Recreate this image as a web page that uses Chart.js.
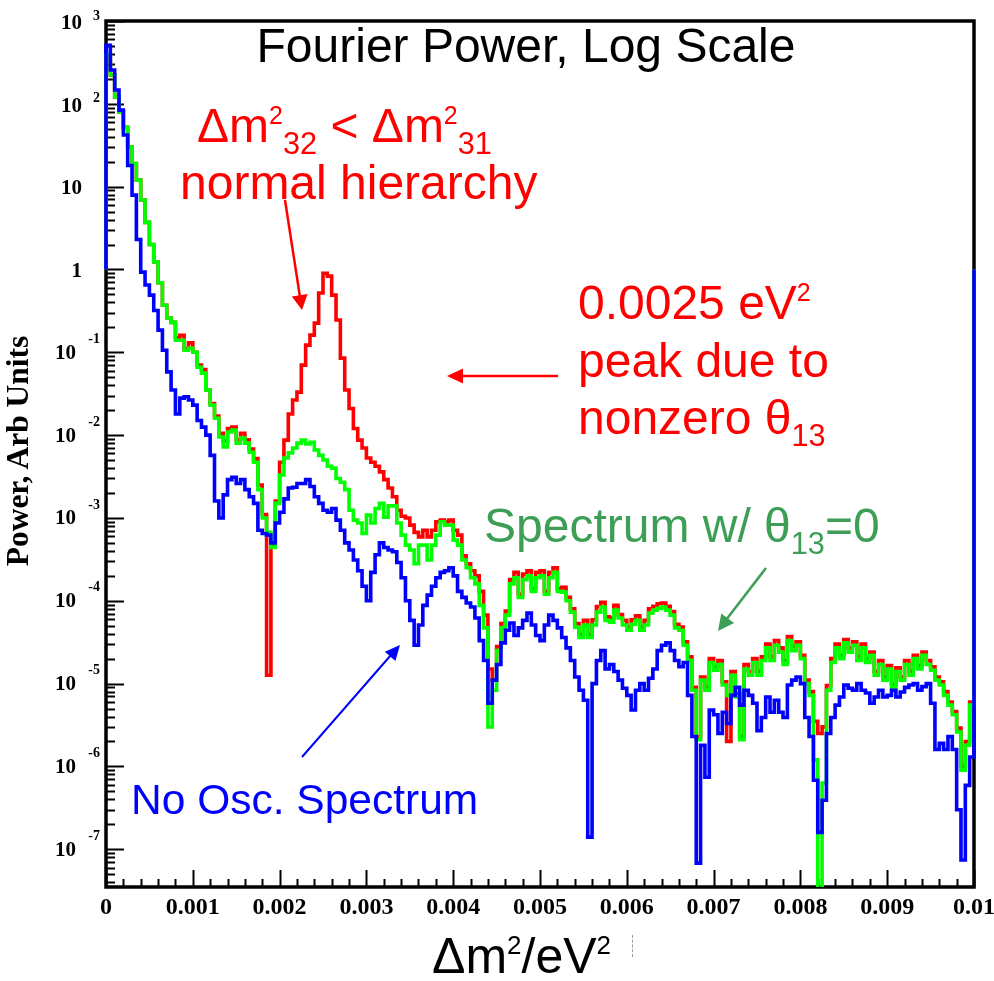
<!DOCTYPE html>
<html>
<head>
<meta charset="utf-8">
<script src="https://cdn.jsdelivr.net/npm/chart.js@4.4.0/dist/chart.umd.min.js"></script>
<style>
  html, body { margin:0; padding:0; background:#fff; }
  #wrap { position:relative; width:994px; height:981px; overflow:hidden; background:#fff; }
  #c { position:absolute; left:0; top:0; }
  .t { position:absolute; white-space:nowrap; font-family:"Liberation Sans", Arial, sans-serif; font-size:48px; line-height:1; }
  .sup { font-size:0.52em; position:relative; top:-0.72em; }
  .sub { font-size:0.64em; position:relative; top:0.39em; }
  .red { color:#ff0000; }
  .grn { color:#3d9e55; }
  .blu { color:#0000ff; }
  #ytitle { position:absolute; left:18px; top:451px; white-space:nowrap; font-family:"Liberation Serif", "Times New Roman", serif; font-weight:bold; font-size:31.5px; line-height:1; transform:translate(-50%,-50%) rotate(-90deg); }
  #arrows { position:absolute; left:0; top:0; }
</style>
</head>
<body>
<div id="wrap">
  <canvas id="c" width="994" height="981"></canvas>
  <div class="t" style="left:526px; top:22px; transform:translateX(-50%);">Fourier Power, Log Scale</div>
  <div class="t red" style="left:197px; top:102px;">Δm<span class="sup">2</span><span class="sub">32</span> &lt; Δm<span class="sup">2</span><span class="sub">31</span></div>
  <div class="t red" style="left:180px; top:159px;">normal hierarchy</div>
  <div class="t red" style="left:578px; top:279px;">0.0025 eV<span class="sup">2</span></div>
  <div class="t red" style="left:578px; top:337px;">peak due to</div>
  <div class="t red" style="left:578px; top:394px;">nonzero θ<span class="sub">13</span></div>
  <div class="t grn" style="left:484px; top:502px; font-size:48px;">Spectrum w/ θ<span class="sub">13</span>=0</div>
  <div class="t blu" style="left:131px; top:779px; font-size:42.5px;">No Osc. Spectrum</div>
  <div class="t" style="left:432px; top:931px; font-size:50px;">Δm<span class="sup">2</span>/eV<span class="sup">2</span></div>
  <div id="ytitle">Power, Arb Units</div>
  <div style="position:absolute; left:632px; top:935px; height:22px; border-left:1px dashed #999;"></div>
  <svg id="arrows" width="994" height="981">
    <line x1="558" y1="376" x2="460" y2="376" stroke="#ff0000" stroke-width="2.5"/>
    <polygon points="447,376 463,368.5 463,383.5" fill="#ff0000"/>
    <line x1="285" y1="200" x2="300" y2="297" stroke="#ff0000" stroke-width="2.5"/>
    <polygon points="302,310 307.6,294 291.8,296.4" fill="#ff0000"/>
    <line x1="766" y1="568" x2="726" y2="620" stroke="#3d9e55" stroke-width="2.5"/>
    <polygon points="718,631 734.1,623.1 721.3,613.5" fill="#3d9e55"/>
    <line x1="302" y1="757" x2="391" y2="655" stroke="#0000ff" stroke-width="2"/>
    <polygon points="400,645 395.4,660.9 384.8,651.7" fill="#0000ff"/>
  </svg>
</div>
<script>
// ---------------- data ----------------
const X_MIN = 0;
const X_MAX = 0.01;
const BIN_WIDTH = 0.00005;          // 200 bins of the histogram
const Y_MIN = 3.5e-8;
const Y_MAX = 1000;
const EDGE_BASE = 1;                 // histogram outline returns to 1 at both ends

// No oscillation spectrum (blue)
const noOscPower = [
  510, 256, 147, 84, 42, 18, 7.9, 2.3, 0.93, 0.65,
  0.49, 0.32, 0.185, 0.106, 0.058, 0.035, 0.018, 0.028, 0.029, 0.0265,
  0.023, 0.015, 0.0125, 0.010, 0.0057, 0.0016, 0.0010, 0.0019, 0.0029, 0.0031,
  0.0026, 0.0029, 0.0022, 0.0018, 0.0015, 7.1e-4, 6.5e-4, 6.2e-4, 5.0e-4, 8.7e-4,
  1.17e-3, 1.7e-3, 2.3e-3, 2.35e-3, 2.6e-3, 2.6e-3, 2.9e-3, 2.4e-3, 1.8e-3, 1.5e-3,
  1.24e-3, 1.17e-3, 1.3e-3, 9.4e-4, 7.1e-4, 5.0e-4, 4.1e-4, 3.1e-4, 2.3e-4, 1.5e-4,
  1.0e-4, 2.2e-4, 3.6e-4, 5.0e-4, 4.4e-4, 4.1e-4, 3.9e-4, 2.9e-4, 1.9e-4, 1.0e-4,
  5.8e-5, 2.9e-5, 5.1e-5, 8.8e-5, 1.17e-4, 1.5e-4, 1.9e-4, 2.2e-4, 2.3e-4, 2.5e-4,
  2.0e-4, 1.3e-4, 1.1e-4, 9.4e-5, 8.4e-5, 6.2e-5, 3.3e-5, 1.9e-5, 5.8e-6, 1.1e-5,
  1.7e-5, 3.1e-5, 4.4e-5, 5.4e-5, 3.8e-5, 4.7e-5, 5.8e-5, 7.1e-5, 5.1e-5, 3.8e-5,
  3.3e-5, 5.1e-5, 6.7e-5, 5.8e-5, 4.7e-5, 3.6e-5, 2.7e-5, 1.9e-5, 1.2e-5, 8.3e-6,
  6.3e-6, 1.4e-7, 1.0e-5, 1.9e-5, 2.5e-5, 1.5e-5, 1.7e-5, 1.4e-5, 1.1e-5, 8.8e-6,
  7.2e-6, 4.8e-6, 8.3e-6, 1.0e-5, 8.3e-6, 1.16e-5, 1.5e-5, 2.5e-5, 2.9e-5, 3.1e-5,
  2.5e-5, 1.9e-5, 1.6e-5, 1.8e-5, 7.2e-6, 2.3e-6, 6.8e-8, 1.8e-6, 7.4e-7, 4.8e-6,
  4.2e-6, 2.5e-6, 4.5e-6, 3.3e-6, 7.2e-6, 9.0e-6, 5.5e-6, 8.3e-6, 7.2e-6, 5.8e-6,
  2.7e-6, 3.9e-6, 6.9e-6, 4.5e-6, 6.3e-6, 4.5e-6, 3.9e-6, 9.6e-6, 1.1e-5, 1.2e-5,
  1.0e-5, 3.9e-6, 2.3e-6, 6.8e-7, 1.6e-7, 3.9e-7, 2.5e-6, 3.9e-6, 5.5e-6, 6.9e-6,
  9.6e-6, 8.8e-6, 8.3e-6, 1.0e-5, 8.3e-6, 7.7e-6, 5.8e-6, 6.9e-6, 8.3e-6, 6.9e-6,
  7.2e-6, 8.3e-6, 6.9e-6, 7.9e-6, 9.0e-6, 9.6e-6, 1.0e-5, 8.3e-6, 9.2e-6, 1.0e-5,
  5.8e-6, 1.6e-6, 1.9e-6, 1.6e-6, 2.3e-6, 1.6e-6, 3.0e-7, 7.4e-8, 5.9e-7, 1.3e-6
];

// Spectrum with theta13 = 0 (green)
const theta13ZeroPower = [
  390, 223, 121, 80, 52, 30, 19, 12, 6.9, 3.7,
  2.0, 1.23, 0.69, 0.37, 0.26, 0.23, 0.14, 0.14, 0.106, 0.112,
  0.10, 0.066, 0.056, 0.035, 0.023, 0.016, 0.0095, 0.0072, 0.0109, 0.0115,
  0.0080, 0.0092, 0.0080, 0.0062, 0.0047, 0.0022, 0.0010, 6.7e-4, 4.4e-4, 0.0015,
  0.0033, 0.0053, 0.0061, 0.0070, 0.0080, 0.0087, 0.0078, 0.0082, 0.0066, 0.0057,
  0.0050, 0.0042, 0.0040, 0.0030, 0.0027, 0.0022, 0.00124, 9.4e-4, 8.7e-4, 6.5e-4,
  0.00108, 8.7e-4, 0.0013, 0.0015, 0.00102, 0.0014, 0.0014, 8.7e-4, 6.2e-4, 4.7e-4,
  4.1e-4, 2.8e-4, 4.7e-4, 4.7e-4, 3.1e-4, 4.7e-4, 6.2e-4, 9.0e-4, 8.2e-4, 8.2e-4,
  5.4e-4, 4.7e-4, 3.1e-4, 2.5e-4, 1.9e-4, 1.6e-4, 8.8e-5, 4.7e-5, 3.0e-6, 8.3e-6,
  2.5e-5, 4.7e-5, 6.7e-5, 1.6e-4, 1.9e-4, 1.1e-4, 1.8e-4, 2.0e-4, 1.3e-4, 1.9e-4,
  2.0e-4, 1.2e-4, 1.9e-4, 2.2e-4, 1.3e-4, 1.27e-4, 1.0e-4, 7.3e-5, 4.8e-5, 3.6e-5,
  5.1e-5, 3.6e-5, 5.1e-5, 7.3e-5, 8.4e-5, 5.8e-5, 5.5e-5, 7.7e-5, 6.2e-5, 5.1e-5,
  4.4e-5, 5.2e-5, 5.8e-5, 4.4e-5, 5.1e-5, 7.1e-5, 7.7e-5, 8.1e-5, 8.4e-5, 7.7e-5,
  6.7e-5, 4.7e-5, 4.4e-5, 2.9e-5, 1.9e-5, 8.3e-6, 2.1e-6, 1.1e-5, 8.3e-6, 1.8e-5,
  1.45e-5, 1.7e-5, 9.6e-6, 7.2e-6, 1.26e-5, 6.9e-6, 2.1e-6, 1.5e-5, 1.26e-5, 1.8e-5,
  1.26e-5, 1.9e-5, 2.7e-5, 1.9e-5, 2.9e-5, 2.4e-5, 1.7e-5, 3.3e-5, 2.5e-5, 2.9e-5,
  2.0e-5, 1.0e-5, 7.2e-6, 1.2e-6, 2.0e-8, 6.3e-7, 8.3e-6, 1.8e-5, 2.7e-5, 2.0e-5,
  3.1e-5, 2.4e-5, 2.9e-5, 1.9e-5, 2.7e-5, 1.8e-5, 2.2e-5, 1.26e-5, 1.7e-5, 1.1e-5,
  1.5e-5, 8.8e-6, 1.4e-5, 1.1e-5, 1.7e-5, 1.26e-5, 2.0e-5, 1.5e-5, 2.2e-5, 1.7e-5,
  1.45e-5, 1.1e-5, 9.6e-6, 7.2e-6, 5.5e-6, 4.2e-6, 2.6e-6, 9.0e-7, 1.8e-6, 5.5e-6
];

// Normal hierarchy, nonzero theta13 (red)
const normalHierarchyPower = [
  390, 223, 121, 80, 52, 30, 19, 12, 6.9, 3.7,
  2.0, 1.23, 0.69, 0.37, 0.26, 0.23, 0.15, 0.16, 0.11, 0.13,
  0.10, 0.07, 0.062, 0.035, 0.024, 0.017, 0.0105, 0.0085, 0.012, 0.0125,
  0.0088, 0.0105, 0.0088, 0.0068, 0.0052, 0.0025, 0.0011, 1.26e-5, 4.7e-4, 0.0016,
  0.0047, 0.0087, 0.018, 0.0265, 0.033, 0.070, 0.122, 0.161, 0.225, 0.52,
  0.90, 0.83, 0.49, 0.245, 0.085, 0.035, 0.021, 0.012, 0.0087, 0.0070,
  0.0053, 0.0047, 0.0042, 0.0036, 0.0029, 0.0023, 0.0018, 0.00124, 0.00105, 0.0010,
  8.2e-4, 6.7e-4, 5.9e-4, 7.1e-4, 5.9e-4, 7.1e-4, 9.0e-4, 9.4e-4, 9.0e-4, 9.4e-4,
  7.1e-4, 6.2e-4, 3.5e-4, 2.8e-4, 2.3e-4, 2.0e-4, 1.3e-4, 6.7e-5, 1.5e-5, 1.1e-5,
  2.8e-5, 5.3e-5, 7.5e-5, 1.8e-4, 2.2e-4, 1.2e-4, 2.1e-4, 2.3e-4, 1.4e-4, 2.2e-4,
  2.3e-4, 1.3e-4, 2.2e-4, 2.5e-4, 1.4e-4, 1.45e-4, 1.1e-4, 8.0e-5, 5.3e-5, 3.9e-5,
  5.8e-5, 3.9e-5, 5.9e-5, 8.5e-5, 9.6e-5, 6.4e-5, 6.2e-5, 8.8e-5, 6.8e-5, 5.8e-5,
  4.8e-5, 5.9e-5, 6.6e-5, 4.8e-5, 5.8e-5, 8.0e-5, 8.6e-5, 9.2e-5, 9.4e-5, 8.6e-5,
  7.4e-5, 5.2e-5, 4.8e-5, 3.2e-5, 2.1e-5, 9.0e-6, 2.3e-6, 1.2e-5, 9.0e-6, 2.0e-5,
  1.6e-5, 1.9e-5, 1.05e-5, 2.0e-6, 1.4e-5, 7.6e-6, 2.3e-6, 1.7e-5, 1.4e-5, 2.0e-5,
  1.4e-5, 2.1e-5, 3.0e-5, 2.1e-5, 3.3e-5, 2.7e-5, 1.9e-5, 3.7e-5, 2.8e-5, 3.2e-5,
  2.2e-5, 1.1e-5, 8.0e-6, 3.5e-6, 2.5e-6, 3.0e-6, 9.5e-6, 2.0e-5, 3.0e-5, 2.2e-5,
  3.4e-5, 2.7e-5, 3.2e-5, 2.1e-5, 3.0e-5, 2.0e-5, 2.4e-5, 1.4e-5, 1.9e-5, 1.2e-5,
  1.65e-5, 9.8e-6, 1.55e-5, 1.2e-5, 1.9e-5, 1.4e-5, 2.2e-5, 1.65e-5, 2.4e-5, 1.9e-5,
  1.6e-5, 1.2e-5, 1.05e-5, 8.0e-6, 6.0e-6, 4.6e-6, 2.9e-6, 1.0e-6, 2.0e-6, 6.0e-6
];

// tick labels
const xTickValues = [0, 0.001, 0.002, 0.003, 0.004, 0.005, 0.006, 0.007, 0.008, 0.009, 0.01];
const xTickLabels = ['0', '0.001', '0.002', '0.003', '0.004', '0.005', '0.006', '0.007', '0.008', '0.009', '0.01'];
const X_MINOR_STEP = 0.0002;
const yDecadeExponents = [-7, -6, -5, -4, -3, -2, -1, 0, 1, 2, 3];

// ---------------- build histogram outlines ----------------
function histogramPoints(values) {
  const pts = [{ x: X_MIN, y: EDGE_BASE }];
  values.forEach((v, i) => pts.push({ x: X_MIN + i * BIN_WIDTH, y: v }));
  pts.push({ x: X_MAX, y: values[values.length - 1] });
  pts.push({ x: X_MAX, y: EDGE_BASE });
  return pts;
}

const SERIF = '"Liberation Serif", "Times New Roman", serif';

const rootAxes = {
  id: 'rootAxes',
  beforeDatasetsDraw(chart) {
    const { ctx, chartArea: a, scales: { x, y } } = chart;
    ctx.save();
    ctx.strokeStyle = '#000';
    ctx.fillStyle = '#000';
    ctx.lineWidth = 2;
    for (let e = -8; e <= 3; e++) {
      for (let m = 1; m <= 9; m++) {
        const v = m * Math.pow(10, e);
        if (v < Y_MIN * 0.999 || v > Y_MAX * 1.001) continue;
        const py = Math.round(y.getPixelForValue(v)) + 0.5;
        const len = (m === 1) ? 18 : 9;
        ctx.beginPath();
        ctx.moveTo(a.left, py);
        ctx.lineTo(a.left + len, py);
        ctx.stroke();
      }
    }
    const nMinor = Math.round((X_MAX - X_MIN) / X_MINOR_STEP);
    for (let i = 0; i <= nMinor; i++) {
      const v = X_MIN + i * X_MINOR_STEP;
      const px = Math.round(x.getPixelForValue(v)) + 0.5;
      const len = (i % 5 === 0) ? 17 : 8;
      ctx.beginPath();
      ctx.moveTo(px, a.bottom);
      ctx.lineTo(px, a.bottom - len);
      ctx.stroke();
    }
    ctx.lineWidth = 3.5;
    ctx.strokeRect(a.left, a.top, a.right - a.left, a.bottom - a.top);

    ctx.font = 'bold 24px ' + SERIF;
    ctx.textAlign = 'center';
    ctx.textBaseline = 'middle';
    xTickValues.forEach((v, i) => {
      ctx.fillText(xTickLabels[i], x.getPixelForValue(v), a.bottom + 21);
    });

    yDecadeExponents.forEach(e => {
      const py = y.getPixelForValue(Math.pow(10, e));
      ctx.textBaseline = 'middle';
      ctx.textAlign = 'right';
      ctx.font = 'bold 21px ' + SERIF;
      if (e === 0 || e === 1) {
        ctx.fillText(e === 0 ? '1' : '10', a.left - 24, py + 2);
        return;
      }
      if (e < 0) {
        ctx.fillText('10', a.left - 30, py + 1);
        ctx.font = 'bold 14px ' + SERIF;
        ctx.fillText(String(e), a.left - 6, py - 13);
      } else {
        ctx.fillText('10', a.left - 24, py + 3);
        ctx.font = 'bold 14px ' + SERIF;
        ctx.fillText(String(e), a.left - 6, py - 5);
      }
    });
    ctx.restore();
  }
};

const common = {
  stepped: 'before',
  borderWidth: 3.6,
  pointRadius: 0,
  fill: false,
  borderJoinStyle: 'miter',
  clip: { left: 3, right: 3, top: 2, bottom: 0 }
};

new Chart(document.getElementById('c'), {
  type: 'line',
  data: {
    datasets: [
      Object.assign({ label: 'No Osc. Spectrum', data: histogramPoints(noOscPower), borderColor: '#0000ff', order: 1 }, common),
      Object.assign({ label: 'Spectrum w/ θ13=0', data: histogramPoints(theta13ZeroPower), borderColor: '#00ff00', order: 2 }, common),
      Object.assign({ label: 'Normal hierarchy', data: histogramPoints(normalHierarchyPower), borderColor: '#ff0000', order: 3 }, common)
    ]
  },
  options: {
    responsive: false,
    animation: false,
    events: [],
    layout: { padding: { left: 106, right: 20, top: 21, bottom: 94 } },
    plugins: { legend: { display: false }, tooltip: { enabled: false }, title: { display: false } },
    scales: {
      x: { type: 'linear', min: X_MIN, max: X_MAX, display: false },
      y: { type: 'logarithmic', min: Y_MIN, max: Y_MAX, display: false }
    }
  },
  plugins: [rootAxes]
});
</script>
</body>
</html>
